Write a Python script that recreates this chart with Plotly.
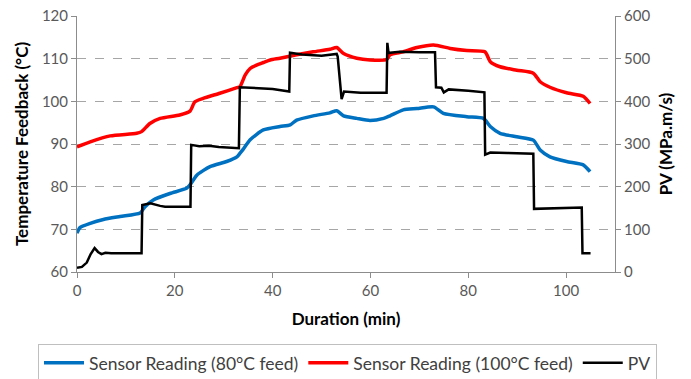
import plotly.graph_objects as go

# Sensor temperature readings (°C) versus duration (min)
t_80 = [0, 0.6, 2.7, 5.4, 8.8, 12.9, 13.9, 15.6, 19.0, 22.4, 23.1, 24.5, 27.2, 30.6, 32.7,
        33.3, 34.0, 35.4, 38.1, 41.5, 43.6, 44.9, 48.3, 51.7, 53.1, 54.5, 57.2, 59.9, 62.7,
        64.0, 66.7, 69.5, 72.9, 74.9, 79.7, 83.1, 84.5, 86.5, 89.9, 93.3, 94.7, 96.7, 100.1,
        103.5, 104.9]
temp_80 = [69.1, 70.4, 71.4, 72.3, 73.0, 73.8, 75.3, 76.9, 78.4, 79.6, 80.4, 82.7, 84.7, 85.9,
           87.0, 87.8, 88.8, 91.0, 93.3, 94.1, 94.5, 95.6, 96.6, 97.3, 97.8, 96.6, 96.0, 95.5,
           96.0, 96.6, 98.0, 98.3, 98.7, 97.2, 96.4, 96.0, 94.1, 92.5, 91.7, 90.9, 88.6, 87.0,
           85.9, 85.1, 83.5]

t_100 = [0, 2.7, 6.8, 12.2, 13.2, 14.9, 17.0, 21.0, 23.1, 24.1, 25.8, 29.2, 32.7, 33.3, 34.4,
         35.4, 36.7, 38.1, 39.5, 41.5, 44.9, 48.3, 51.7, 53.1, 54.5, 57.2, 59.9, 63.3, 64.0,
         66.7, 69.5, 72.9, 76.3, 79.7, 83.4, 84.5, 86.5, 89.9, 93.3, 94.7, 96.7, 100.1, 103.5,
         104.9]
temp_100 = [89.3, 90.5, 91.9, 92.5, 92.9, 94.8, 96.0, 96.8, 97.7, 99.9, 100.7, 101.9, 103.2,
            103.4, 106.2, 107.7, 108.5, 109.1, 109.7, 110.1, 110.9, 111.6, 112.2, 112.6, 111.2,
            110.1, 109.7, 109.8, 110.9, 111.6, 112.6, 113.2, 112.4, 111.9, 111.6, 109.3, 108.1,
            107.3, 106.6, 104.6, 103.3, 102.0, 101.2, 99.5]

# PV load profile (MPa.m/s)
t_pv = [0, 1.0, 2.0, 2.8, 3.6, 4.3, 5.0, 5.8, 7.0, 13.2, 13.35, 15.0, 17.0, 18.0, 23.2, 23.35,
        25.0, 27.0, 29.0, 33.1, 33.3, 36.0, 40.0, 43.4, 43.55, 46.0, 50.0, 53.1, 53.3, 54.1,
        54.6, 58.0, 63.3, 63.45, 63.7, 64.0, 66.0, 70.0, 73.2, 73.4, 74.5, 75.0, 76.0, 80.0,
        83.3, 83.45, 84.5, 88.0, 93.3, 93.45, 96.0, 100.0, 103.2, 103.35, 105.0]
pv = [10, 12, 22, 42, 56, 47, 42, 45, 44, 44, 157, 161, 155, 153, 153, 298, 295, 296, 293, 290,
      433, 431, 429, 423, 514, 510, 507, 511, 505, 405, 423, 420, 420, 537, 513, 514, 516, 515,
      515, 433, 432, 421, 428, 425, 421, 275, 280, 279, 277, 148, 149, 150, 151, 44, 44]

x_ticks = [0, 20, 40, 60, 80, 100]
y_ticks = [60, 70, 80, 90, 100, 110, 120]
y2_ticks = [0, 100, 200, 300, 400, 500, 600]

FONT = "Lato"
AXIS_GREY = "#8c8c8c"
GRID_GREY = "#a6a6a6"
TICK_COLOR = "#595959"
TITLE_FONT = dict(family=FONT, size=17, color="#000000")

fig = go.Figure()
fig.add_trace(go.Scatter(x=t_80, y=temp_80, mode="lines", name="Sensor Reading (80°C feed)",
                         line=dict(color="#0070c0", width=3.5, shape="spline", smoothing=0.6)))
fig.add_trace(go.Scatter(x=t_100, y=temp_100, mode="lines", name="Sensor Reading (100°C feed)",
                         line=dict(color="#ff0000", width=3.5, shape="spline", smoothing=0.6)))
fig.add_trace(go.Scatter(x=t_pv, y=pv, mode="lines", name="PV", yaxis="y2",
                         line=dict(color="#000000", width=2.5)))

fig.update_layout(
    width=691, height=379,
    margin=dict(l=77, r=76, t=16, b=107, autoexpand=False),
    paper_bgcolor="white", plot_bgcolor="white",
    font=dict(family=FONT, size=15, color=TICK_COLOR),
    xaxis=dict(range=[0, 110], tickvals=x_ticks, showgrid=False, zeroline=False,
               showline=True, linecolor=AXIS_GREY, linewidth=1,
               ticks="outside", ticklen=5, tickcolor=AXIS_GREY,
               title=dict(text="<b>Duration (min)</b>", standoff=15, font=TITLE_FONT)),
    yaxis=dict(range=[60, 120], tickvals=y_ticks, showgrid=True, gridcolor=GRID_GREY,
               griddash="dash", gridwidth=1, zeroline=False,
               showline=True, linecolor=AXIS_GREY, linewidth=1,
               ticks="outside", ticklen=5, tickcolor=AXIS_GREY,
               title=dict(text="<b>Temperature Feedback (°C)</b>", standoff=8, font=TITLE_FONT)),
    yaxis2=dict(range=[0, 600], tickvals=y2_ticks, overlaying="y", side="right",
                showgrid=False, zeroline=False,
                showline=True, linecolor=AXIS_GREY, linewidth=1,
                ticks="outside", ticklen=5, tickcolor=AXIS_GREY,
                title=dict(text="<b>PV (MPa.m/s)</b>", standoff=10, font=TITLE_FONT)),
    legend=dict(orientation="h", x=-0.0725, xanchor="left", y=-0.281, yanchor="top",
                bordercolor="#bfbfbf", borderwidth=1, bgcolor="white",
                font=dict(family=FONT, size=17.5, color="#404040"),
                itemwidth=40, traceorder="normal"),
)

fig.write_html("out.html")
